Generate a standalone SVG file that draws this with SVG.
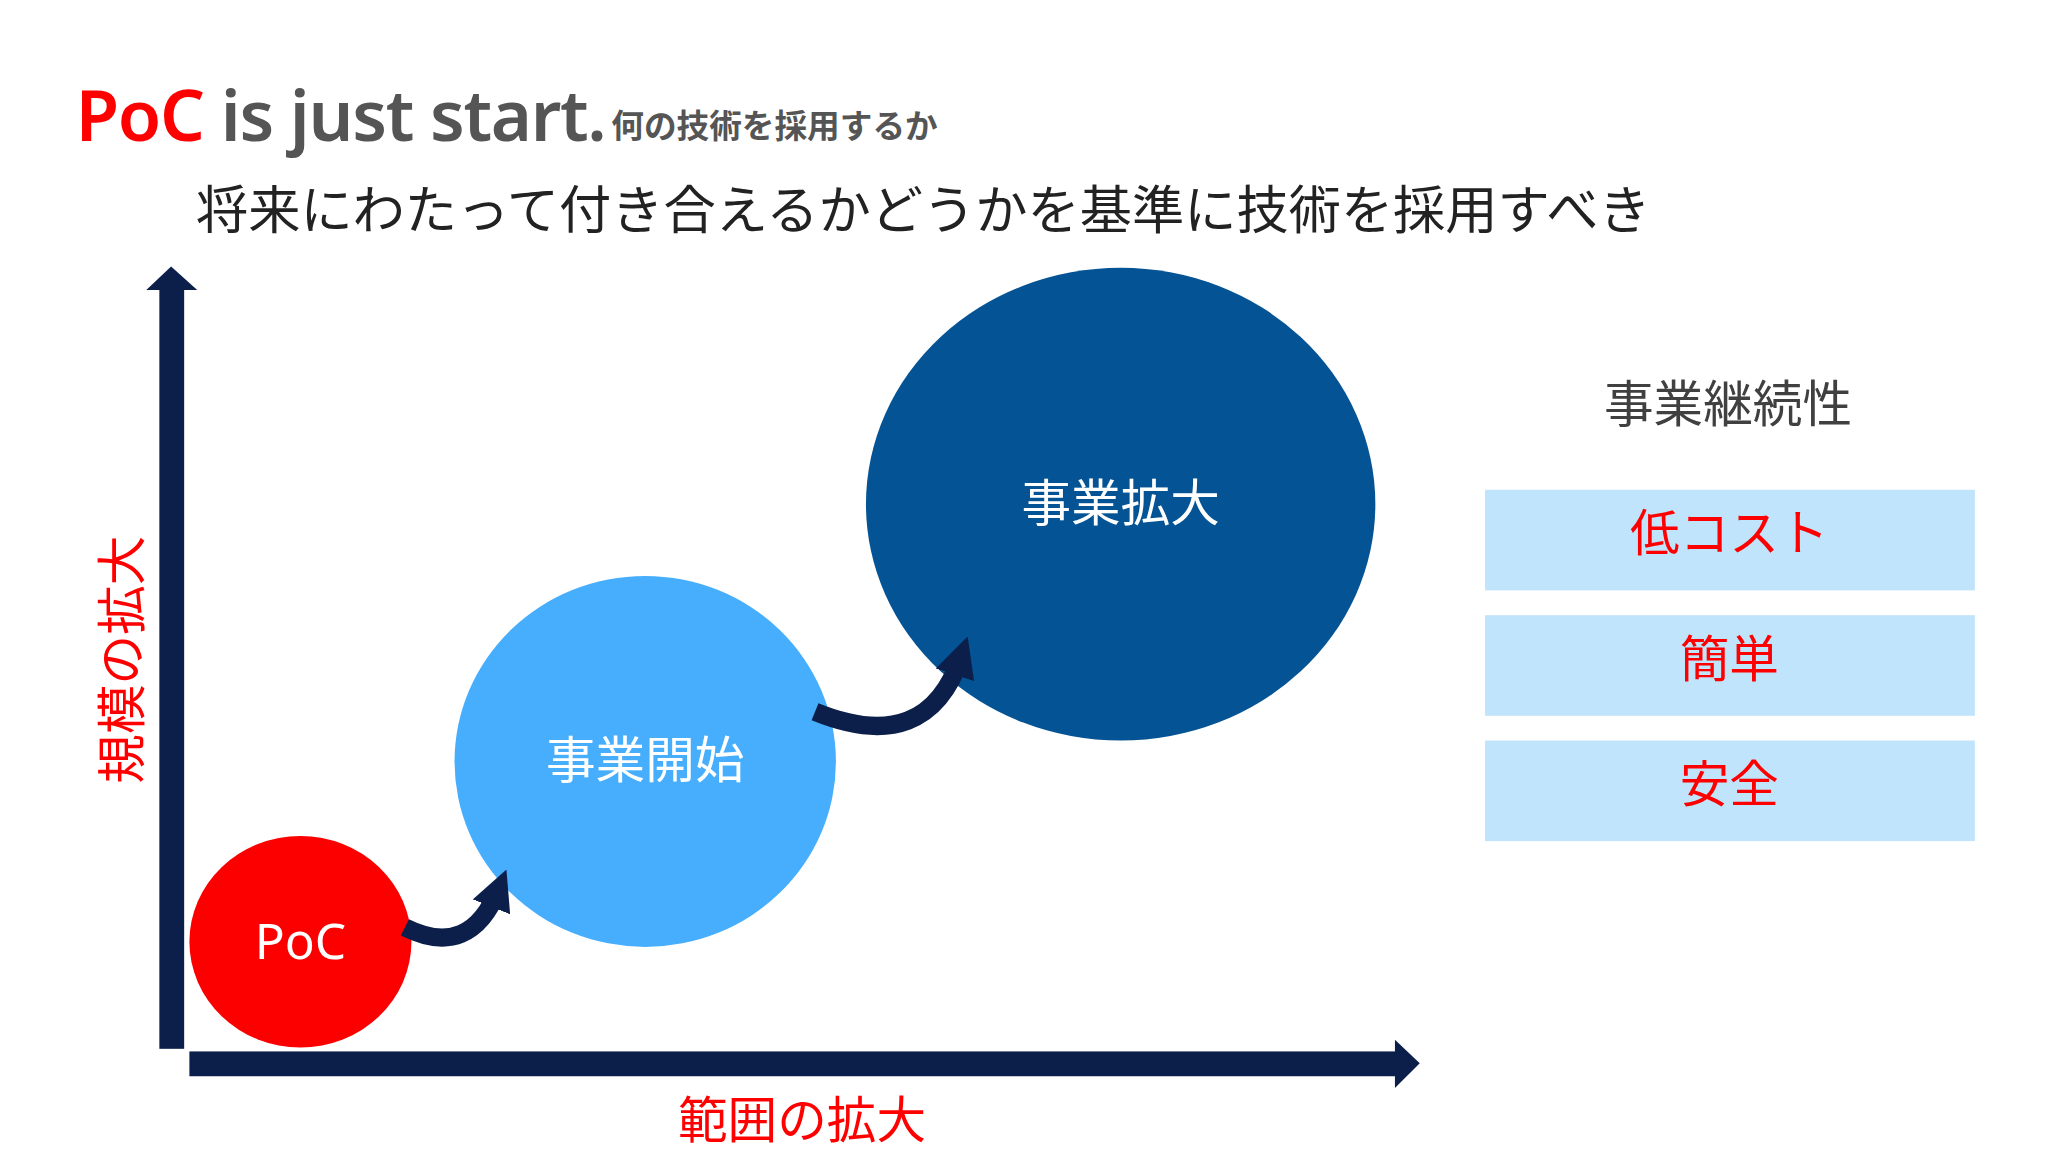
<svg xmlns="http://www.w3.org/2000/svg" width="2048" height="1152" viewBox="0 0 2048 1152">
<style>
text{font-family:"Noto Sans","Noto Sans CJK JP",sans-serif}
.red{fill:#ff0000}
.w{fill:#ffffff;text-anchor:middle}
.box{fill:#bfe4fc}
.bt{fill:#ff0000;text-anchor:middle;font-size:38px}
.ax{fill:#0b1f4a}
</style>
<defs>
<marker id="ah" viewBox="0 0 10 10" refX="5" refY="5" markerWidth="2.2" markerHeight="2.2" orient="auto"><path d="M0,0 L10,5 L0,10 Z" fill="#0b1f4a"/></marker>
</defs>
<rect width="2048" height="1152" fill="#ffffff"/>
<g transform="scale(1.30612)">
<g id="title">
<text x="58" y="108" font-size="54" font-weight="600" letter-spacing="-1"><tspan fill="#ff0000">PoC</tspan><tspan fill="#555555"> is just start.</tspan></text>
<text x="468" y="106" font-size="25" fill="#555555" font-weight="600">何の技術を採用するか</text>
<text x="150" y="175" font-size="40" fill="#222222">将来にわたって付き合えるかどうかを基準に技術を採用すべき</text>
</g>
<g id="axes">
<rect class="ax" x="122" y="220" width="19" height="583"/>
<polygon class="ax" points="112,222 131,204 151,222"/>
<rect class="ax" x="145" y="805" width="926" height="19"/>
<polygon class="ax" points="1068,796 1087,814 1068,833"/>
<text class="red" transform="translate(107,505) rotate(-90)" text-anchor="middle" font-size="38">規模の拡大</text>
<text class="red" x="614" y="871" text-anchor="middle" font-size="38">範囲の拡大</text>
</g>
<g id="expand"><ellipse cx="858" cy="386" rx="195" ry="181" fill="#045394"/><text class="w" x="858" y="399" font-size="38">事業拡大</text></g>
<g id="start"><ellipse cx="494" cy="583" rx="146" ry="142" fill="#47aefd"/><text class="w" x="494" y="596" font-size="38">事業開始</text></g>
<g id="poc"><ellipse cx="230" cy="721" rx="85" ry="81" fill="#fc0000"/><text class="w" x="230" y="734" font-size="38">PoC</text></g>
<g id="connectors" fill="none" stroke="#0b1f4a" stroke-width="14">
<path d="M310,710 Q360,735 382,680" marker-end="url(#ah)"/>
<path d="M624,545 Q710,580 736,502" marker-end="url(#ah)"/>
</g>
<g id="continuity">
<text x="1323" y="323" text-anchor="middle" font-size="38" fill="#404040">事業継続性</text>
<rect class="box" x="1137" y="375" width="375" height="77"/><text class="bt" x="1324" y="422">低コスト</text>
<rect class="box" x="1137" y="471" width="375" height="77"/><text class="bt" x="1324" y="518">簡単</text>
<rect class="box" x="1137" y="567" width="375" height="77"/><text class="bt" x="1324" y="614">安全</text>
</g>
</g>
</svg>
